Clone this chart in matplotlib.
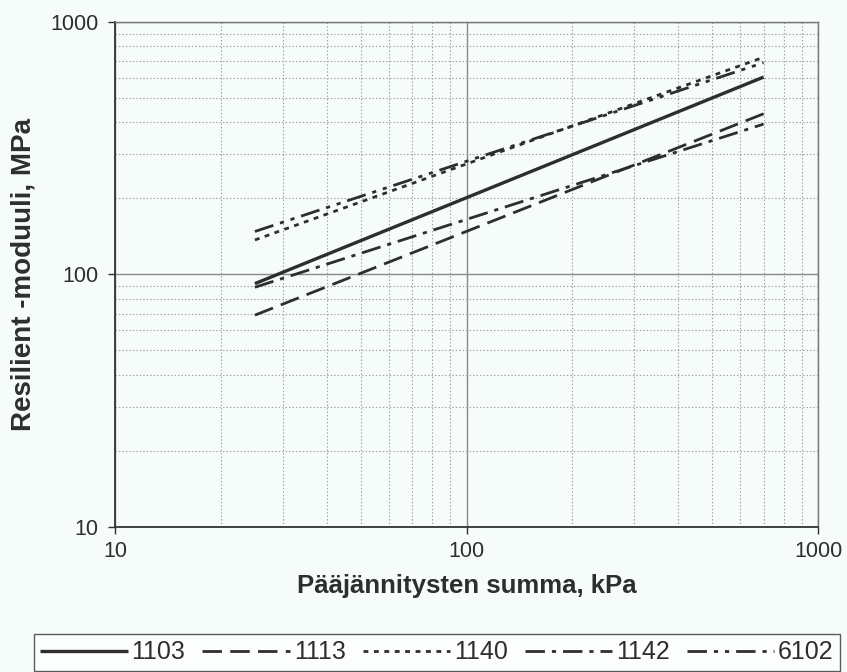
import numpy as np
import matplotlib
matplotlib.use("Agg")
import matplotlib.pyplot as plt
from matplotlib.ticker import FixedLocator, LogLocator, NullFormatter

plt.rcParams['font.family'] = ['Liberation Sans', 'DejaVu Sans']
plt.rcParams['lines.scale_dashes'] = False

# values (power-law fits, straight in log-log)
stress = [25, 700]
series = ["1103", "1113", "1140", "1142", "6102"]
m_1103 = [92, 605]
m_1113 = [69, 433]
m_1140 = [137, 725]
m_1142 = [89, 394]
m_6102 = [148, 690]

styles = {
    "1103": (0, ()),
    "1113": (0, (14, 6)),
    "1140": (0, (3.5, 4)),
    "1142": (0, (14, 5, 3, 5)),
    "6102": (0, (14, 5, 3, 5, 3, 5)),
}

bg = '#f5fcfa'
ink = '#2e2e2e'

fig = plt.figure(figsize=(8.47, 6.72), dpi=100, facecolor=bg)
ax = fig.add_axes([0.1358, 0.2158, 0.83, 0.7515], facecolor=bg)

ax.set_xscale('log')
ax.set_yscale('log')
ax.set_xlim(10, 1000)
ax.set_ylim(10, 1000)

for name, vals in zip(series, [m_1103, m_1113, m_1140, m_1142, m_6102]):
    lw = 2.4 if name == "1103" else 2.0
    ax.plot(stress, vals, color=ink, lw=lw, linestyle=styles[name],
            label=name, solid_capstyle='butt', dash_capstyle='butt')

# grid
ax.xaxis.set_major_locator(FixedLocator([10, 100, 1000]))
ax.yaxis.set_major_locator(FixedLocator([10, 100, 1000]))
ax.xaxis.set_minor_locator(LogLocator(base=10, subs=np.arange(2, 10)))
ax.yaxis.set_minor_locator(LogLocator(base=10, subs=np.arange(2, 10)))
ax.xaxis.set_minor_formatter(NullFormatter())
ax.yaxis.set_minor_formatter(NullFormatter())
ax.set_xticklabels(['10', '100', '1000'])
ax.set_yticklabels(['10', '100', '1000'])
ax.grid(which='major', color='#8a8a8a', lw=1.0, ls='-')
ax.grid(which='minor', color='#a0a0a0', lw=0.8, ls=(0, (1, 1.5)))
ax.set_axisbelow(True)
ax.tick_params(which='major', direction='out', length=5, width=1,
               colors=ink, labelsize=15.5)
ax.tick_params(axis='x', which='major', pad=5)
ax.tick_params(axis='y', which='major', pad=7)
ax.tick_params(which='minor', length=0)

for s in ['left', 'bottom']:
    ax.spines[s].set_color('#333333')
    ax.spines[s].set_linewidth(1.3)
for s in ['top', 'right']:
    ax.spines[s].set_color('#777777')
    ax.spines[s].set_linewidth(1.0)

ax.set_xlabel('Pääjännitysten summa, kPa', fontsize=18.5, fontweight='bold',
              color=ink, labelpad=9)
ax.set_ylabel('Resilient -moduuli, MPa', fontsize=20, fontweight='bold',
              color=ink, labelpad=10)

# legend box runs almost to the right edge like the scan
leg = fig.legend(loc='upper left', bbox_to_anchor=(34 / 847, 1 - 634 / 672),
                 ncol=5, fontsize=18, frameon=True,
                 handlelength=3.5, handletextpad=0.15, columnspacing=0.68,
                 borderaxespad=0, borderpad=0.25, fancybox=False)
leg.get_frame().set_edgecolor('#333333')
leg.get_frame().set_linewidth(1.0)
leg.get_frame().set_facecolor('white')
for t in leg.get_texts():
    t.set_color(ink)

fig.savefig('out.png', dpi=100, facecolor=bg)
